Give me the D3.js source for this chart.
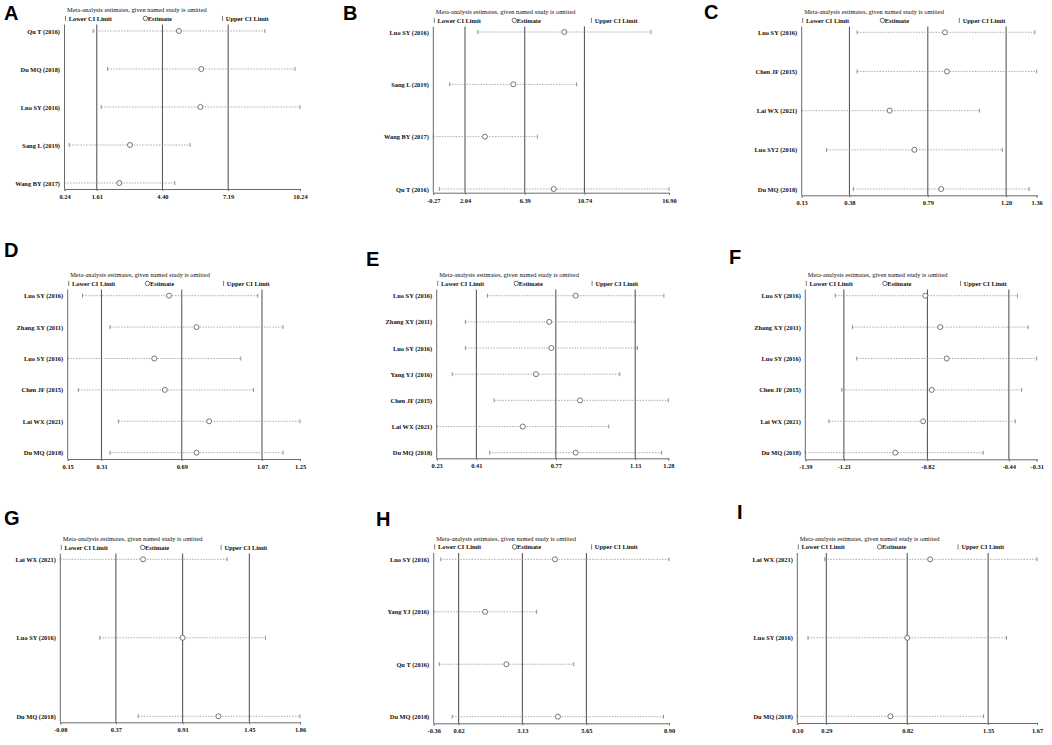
<!DOCTYPE html>
<html>
<head>
<meta charset="utf-8">
<script src="https://cdn.jsdelivr.net/npm/d3@7"></script>
<style>
body { margin: 0; background: #fff; }
text { font-family: "Liberation Serif", "Times New Roman", serif; }
</style>
</head>
<body>
<svg id="chart" width="1052" height="745"></svg>
<script>
// leave-one-out estimates
var studiesA = ["Qu T (2016)", "Du MQ (2018)", "Luo SY (2016)", "Sang L (2019)", "Wang BY (2017)"];
var lowerA = [1.46, 2.07, 1.80, 0.44, 0.24];
var estA = [5.10, 6.05, 6.01, 3.02, 2.57];
var upperA = [8.75, 10.03, 10.24, 5.57, 4.92];
var ticksA = [0.24, 1.61, 4.40, 7.19, 10.24];

var studiesB = ["Luo SY (2016)", "Sang L (2019)", "Wang BY (2017)", "Qu T (2016)"];
var lowerB = [2.98, 0.92, -0.27, 0.17];
var estB = [9.27, 5.56, 3.49, 8.50];
var upperB = [15.59, 10.17, 7.31, 16.90];
var ticksB = [-0.27, 2.04, 6.39, 10.74, 16.90];

var studiesC = ["Luo SY (2016)", "Chen JF (2015)", "Lai WX (2021)", "Luo SY2 (2016)", "Du MQ (2018)"];
var lowerC = [0.42, 0.42, 0.13, 0.26, 0.40];
var estC = [0.88, 0.89, 0.59, 0.72, 0.86];
var upperC = [1.35, 1.36, 1.06, 1.18, 1.32];
var ticksC = [0.13, 0.38, 0.79, 1.20, 1.36];

var studiesD = ["Luo SY (2016)", "Zhang XY (2011)", "Luo SY (2016)", "Chen JF (2015)", "Lai WX (2021)", "Du MQ (2018)"];
var lowerD = [0.22, 0.35, 0.15, 0.20, 0.39, 0.35];
var estD = [0.63, 0.76, 0.56, 0.61, 0.82, 0.76];
var upperD = [1.05, 1.17, 0.97, 1.03, 1.25, 1.17];
var ticksD = [0.15, 0.31, 0.69, 1.07, 1.25];

var studiesE = ["Luo SY (2016)", "Zhang XY (2011)", "Luo SY (2016)", "Yang YJ (2016)", "Chen JF (2015)", "Lai WX (2021)", "Du MQ (2018)"];
var lowerE = [0.46, 0.36, 0.36, 0.30, 0.49, 0.23, 0.47];
var estE = [0.86, 0.74, 0.75, 0.68, 0.88, 0.62, 0.86];
var upperE = [1.26, 1.13, 1.14, 1.06, 1.28, 1.01, 1.25];
var ticksE = [0.23, 0.41, 0.77, 1.13, 1.28];

var studiesF = ["Luo SY (2016)", "Zhang XY (2011)", "Luo SY (2016)", "Chen JF (2015)", "Lai WX (2021)", "Du MQ (2018)"];
var lowerF = [-1.25, -1.17, -1.15, -1.22, -1.28, -1.39];
var estF = [-0.83, -0.76, -0.73, -0.80, -0.84, -0.97];
var upperF = [-0.40, -0.35, -0.31, -0.38, -0.41, -0.56];
var ticksF = [-1.39, -1.21, -0.82, -0.44, -0.31];

var studiesG = ["Lai WX (2021)", "Luo SY (2016)", "Du MQ (2018)"];
var lowerG = [-0.08, 0.24, 0.55];
var estG = [0.59, 0.91, 1.20];
var upperG = [1.27, 1.58, 1.86];
var ticksG = [-0.08, 0.37, 0.91, 1.45, 1.86];

var studiesH = ["Luo SY (2016)", "Yang YJ (2016)", "Qu T (2016)", "Du MQ (2018)"];
var lowerH = [-0.08, -0.36, -0.14, 0.37];
var estH = [4.41, 1.66, 2.50, 4.53];
var upperH = [8.90, 3.69, 5.15, 8.68];
var ticksH = [-0.36, 0.62, 3.13, 5.65, 8.90];

var studiesI = ["Lai WX (2021)", "Luo SY (2016)", "Du MQ (2018)"];
var lowerI = [0.28, 0.17, 0.10];
var estI = [0.97, 0.82, 0.71];
var upperI = [1.67, 1.47, 1.32];
var ticksI = [0.10, 0.29, 0.82, 1.35, 1.67];

var TITLE = "Meta-analysis estimates, given named study is omitted";

// panel placement (page pixels)
var panels = [
    {tag: "A", lx: 4, ly: 20, left: 64.5, right: 300, titleY: 12, bottom: 189, y0: 31, y1: 183,
     studies: studiesA, lower: lowerA, est: estA, upper: upperA, ticks: ticksA},
    {tag: "B", lx: 343, ly: 20, left: 433.3, right: 669, titleY: 14, bottom: 192.7, y0: 32, y1: 189,
     studies: studiesB, lower: lowerB, est: estB, upper: upperB, ticks: ticksB},
    {tag: "C", lx: 704, ly: 19, left: 801.7, right: 1036.7, titleY: 14, bottom: 195.3, y0: 32.3, y1: 189,
     studies: studiesC, lower: lowerC, est: estC, upper: upperC, ticks: ticksC},
    {tag: "D", lx: 4, ly: 257, left: 67.7, right: 300, titleY: 277, bottom: 459, y0: 295.7, y1: 452.7,
     studies: studiesD, lower: lowerD, est: estD, upper: upperD, ticks: ticksD},
    {tag: "E", lx: 366, ly: 266, left: 436.7, right: 668.3, titleY: 277, bottom: 458.3, y0: 295.7, y1: 452.7,
     studies: studiesE, lower: lowerE, est: estE, upper: upperE, ticks: ticksE},
    {tag: "F", lx: 729, ly: 264, left: 805.3, right: 1036.7, titleY: 277, bottom: 459.3, y0: 295.7, y1: 452.7,
     studies: studiesF, lower: lowerF, est: estF, upper: upperF, ticks: ticksF},
    {tag: "G", lx: 4, ly: 525, left: 60.3, right: 300, titleY: 541, bottom: 722.3, y0: 559.3, y1: 716.3,
     studies: studiesG, lower: lowerG, est: estG, upper: upperG, ticks: ticksG},
    {tag: "H", lx: 376, ly: 526, left: 433.7, right: 669, titleY: 540.5, bottom: 723.3, y0: 559.3, y1: 716.7,
     studies: studiesH, lower: lowerH, est: estH, upper: upperH, ticks: ticksH},
    {tag: "I", lx: 737, ly: 519, left: 797.3, right: 1037, titleY: 540.5, bottom: 723, y0: 559.3, y1: 716.3,
     studies: studiesI, lower: lowerI, est: estI, upper: upperI, ticks: ticksI}
];

var svg = d3.select("#chart");
var fs = 6.4;

function legendBar(g, x0, yb) {
    g.append("line")
        .attr("x1", x0).attr("x2", x0)
        .attr("y1", yb - 4.6).attr("y2", yb + 0.4)
        .attr("stroke", "#444").attr("stroke-width", 0.7);
}

panels.forEach(function (p) {
    var g = svg.append("g");
    var legendY = p.titleY + 8.5;
    var top = legendY + 4;
    var w = p.right - p.left;

    var x = d3.scaleLinear()
        .domain([p.ticks[0], p.ticks[p.ticks.length - 1]])
        .range([p.left, p.right]);
    var y = d3.scalePoint()
        .domain(d3.range(p.studies.length))
        .range([p.y0, p.y1]);

    // panel letter
    g.append("text")
        .attr("x", p.lx).attr("y", p.ly)
        .style("font-family", "'Liberation Sans', Arial, sans-serif")
        .style("font-weight", "bold")
        .style("font-size", "20px")
        .text(p.tag);

    // heading + legend
    g.append("text")
        .attr("x", p.left + 2.5).attr("y", p.titleY)
        .style("font-size", fs + "px")
        .attr("fill", "#111")
        .text(TITLE);

    legendBar(g, p.left + 1, legendY);
    g.append("text")
        .attr("x", p.left + 4.3).attr("y", legendY)
        .style("font-size", fs + "px").style("font-weight", "bold")
        .attr("fill", "#111")
        .text("Lower CI Limit");
    g.append("circle")
        .attr("cx", p.left + w / 3 + 2.4).attr("cy", legendY - 2.1).attr("r", 2.2)
        .attr("fill", "none").attr("stroke", "#333").attr("stroke-width", 0.7);
    g.append("text")
        .attr("x", p.left + w / 3 + 4.8).attr("y", legendY)
        .style("font-size", fs + "px").style("font-weight", "bold")
        .attr("fill", "#111")
        .text("Estimate");
    legendBar(g, p.left + 2 * w / 3 + 1, legendY);
    g.append("text")
        .attr("x", p.left + 2 * w / 3 + 4.3).attr("y", legendY)
        .style("font-size", fs + "px").style("font-weight", "bold")
        .attr("fill", "#111")
        .text("Upper CI Limit");

    // overall lower / estimate / upper reference lines
    g.selectAll(".ref")
        .data(p.ticks.slice(1, 4))
        .enter().append("line")
        .attr("x1", x).attr("x2", x)
        .attr("y1", top).attr("y2", p.bottom)
        .attr("stroke", "#5a5a5a").attr("stroke-width", 1.1);

    // left frame line
    g.append("line")
        .attr("x1", p.left).attr("x2", p.left)
        .attr("y1", top).attr("y2", p.bottom)
        .attr("stroke", "#6a6a6a").attr("stroke-width", 1);

    // bottom axis
    var xAxis = d3.axisBottom(x)
        .tickValues(p.ticks)
        .tickSize(2)
        .tickPadding(3.5)
        .tickFormat(function (d) { return d.toFixed(2); });
    var ax = g.append("g")
        .attr("transform", "translate(0," + p.bottom + ")")
        .call(xAxis);
    ax.select(".domain").attr("stroke", "#6a6a6a");
    ax.selectAll(".tick line").attr("stroke", "#6a6a6a");
    ax.selectAll("text")
        .style("font-family", "'Liberation Serif', 'Times New Roman', serif")
        .style("font-size", fs + "px").style("font-weight", "bold")
        .attr("fill", "#111");

    // study labels
    var yAxis = d3.axisLeft(y)
        .tickSize(0)
        .tickPadding(4.5)
        .tickFormat(function (i) { return p.studies[i]; });
    var ay = g.append("g")
        .attr("transform", "translate(" + p.left + ",0)")
        .call(yAxis);
    ay.select(".domain").remove();
    ay.selectAll("text")
        .style("font-family", "'Liberation Serif', 'Times New Roman', serif")
        .style("font-size", fs + "px").style("font-weight", "bold")
        .attr("fill", "#111");

    // study rows
    var rows = g.selectAll(".row")
        .data(d3.range(p.studies.length))
        .enter().append("g");
    rows.append("line")
        .attr("x1", function (i) { return x(p.lower[i]); })
        .attr("x2", function (i) { return x(p.upper[i]); })
        .attr("y1", y).attr("y2", y)
        .attr("stroke", "#8f8f8f").attr("stroke-width", 0.7)
        .attr("stroke-dasharray", "1.6,1.2");
    rows.append("line")
        .attr("x1", function (i) { return x(p.lower[i]); })
        .attr("x2", function (i) { return x(p.lower[i]); })
        .attr("y1", function (i) { return y(i) - 2; })
        .attr("y2", function (i) { return y(i) + 2; })
        .attr("stroke", "#777").attr("stroke-width", 0.8);
    rows.append("line")
        .attr("x1", function (i) { return x(p.upper[i]); })
        .attr("x2", function (i) { return x(p.upper[i]); })
        .attr("y1", function (i) { return y(i) - 2; })
        .attr("y2", function (i) { return y(i) + 2; })
        .attr("stroke", "#777").attr("stroke-width", 0.8);
    rows.append("circle")
        .attr("cx", function (i) { return x(p.est[i]); })
        .attr("cy", y)
        .attr("r", 2.5)
        .attr("fill", "#fff").attr("stroke", "#666").attr("stroke-width", 0.9);
});
</script>
</body>
</html>
